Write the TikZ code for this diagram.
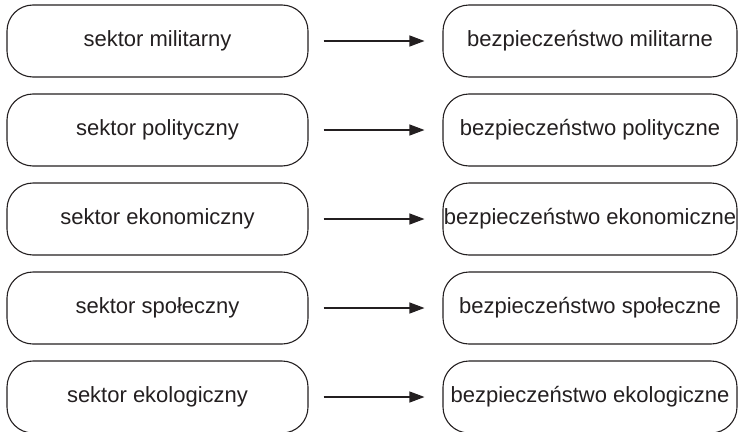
\documentclass[tikz,border=0pt]{standalone}
\usepackage{fontspec}
\setmainfont{Liberation Sans}
\usetikzlibrary{arrows.meta}
\definecolor{ink}{HTML}{231F20}
\tikzset{
  sector/.style={draw=ink, line width=1.1pt, rounded corners=26pt, minimum width=301pt, minimum height=72pt, inner sep=0pt, text=ink, font=\fontsize{22}{26}\selectfont},
  secur/.style={sector, minimum width=294pt},
  conn/.style={draw=ink, line width=1.1pt, -{Triangle[length=15pt,width=11pt]}, shorten <=15pt, shorten >=18pt}
}
\begin{document}
\begin{tikzpicture}[x=1pt,y=-1pt]
\useasboundingbox (0,0) rectangle (738,431);
\clip (0,0) rectangle (738,431);
\node[sector] (l1) at (157.5,41) {sektor militarny};
\node[sector] (l2) at (157.5,130) {sektor polityczny};
\node[sector] (l3) at (157.5,219) {sektor ekonomiczny};
\node[sector] (l4) at (157.5,308) {sektor społeczny};
\node[sector] (l5) at (157.5,397) {sektor ekologiczny};
\node[secur] (r1) at (590,41) {bezpieczeństwo militarne};
\node[secur] (r2) at (590,130) {bezpieczeństwo polityczne};
\node[secur] (r3) at (590,219) {bezpieczeństwo ekonomiczne};
\node[secur] (r4) at (590,308) {bezpieczeństwo społeczne};
\node[secur] (r5) at (590,397) {bezpieczeństwo ekologiczne};
\foreach \i in {1,...,5} {
  \draw[conn] (l\i) -- (r\i);
}
\end{tikzpicture}
\end{document}
